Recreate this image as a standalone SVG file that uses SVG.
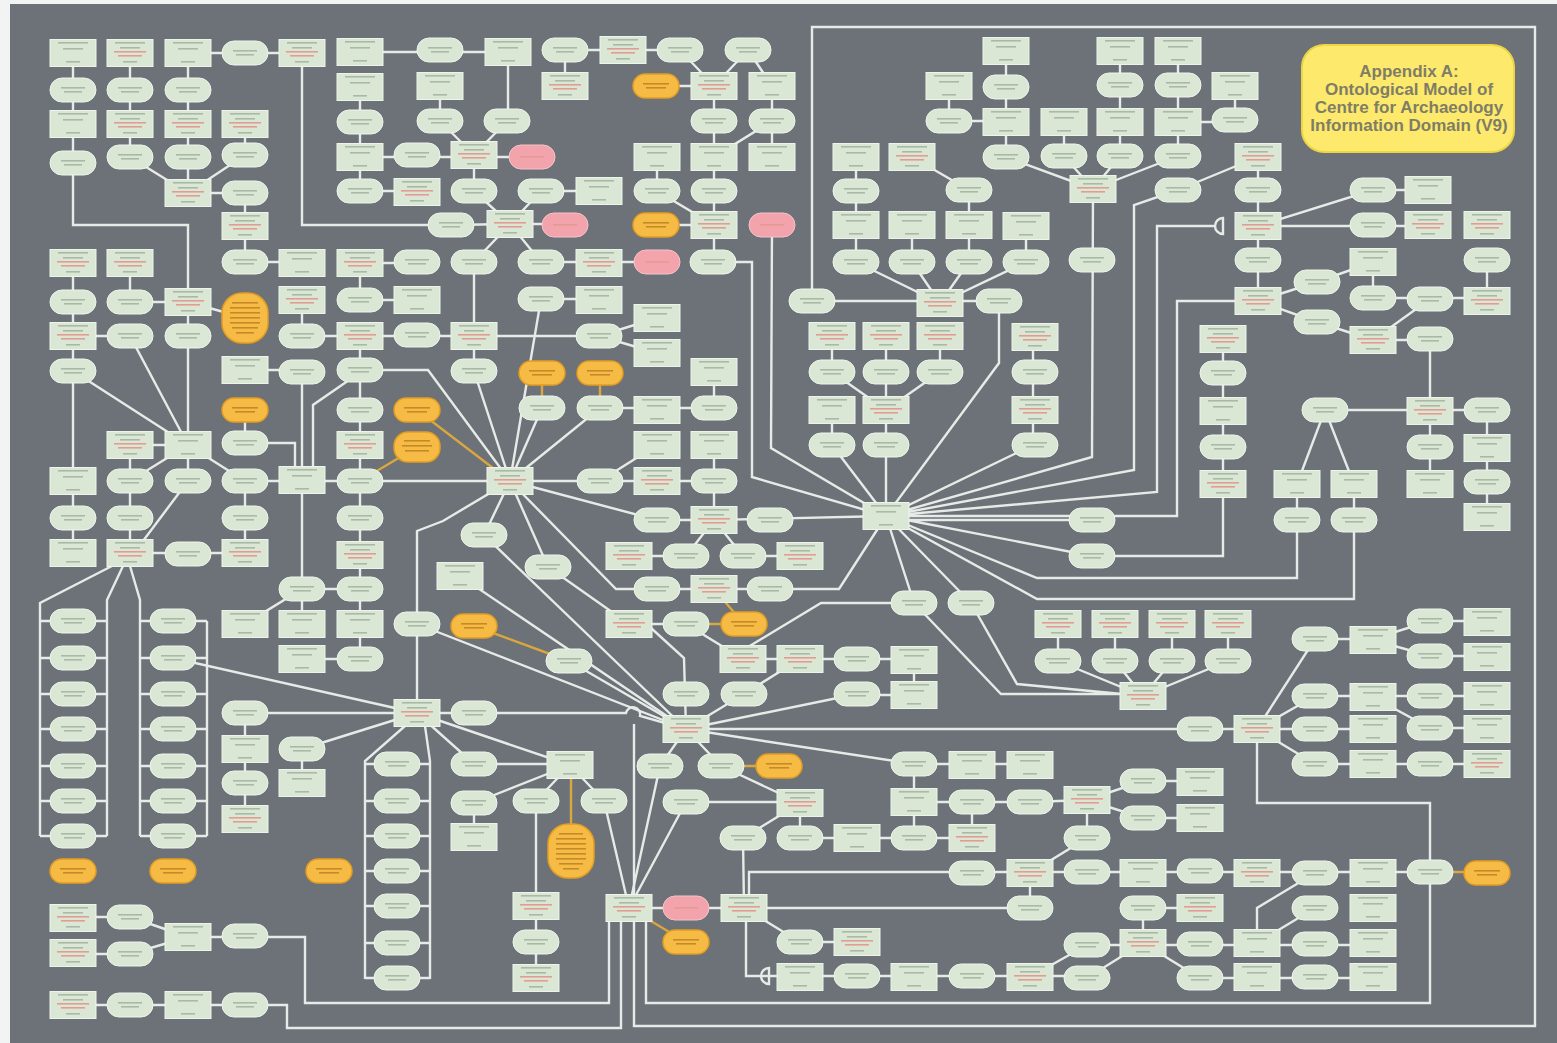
<svg xmlns="http://www.w3.org/2000/svg" width="1557" height="1043" viewBox="0 0 1557 1043">
<style>
.e path{fill:none;stroke:#e7ebe7;stroke-width:2.4}
.e path.o{stroke:#d9a640}
.bx{fill:#dbe7d5;stroke:#eef4ec;stroke-width:1}
.t{fill:#a9b9a6}
.tr{fill:#e39c92}
.or{fill:#f6bb45;stroke:#e39d22;stroke-width:1.5}
.pk{fill:#f2a3ab;stroke:#f6c3c8;stroke-width:1}
.to{fill:#c58a28}
.title{font-family:"Liberation Sans",Arial,sans-serif;font-weight:bold;font-size:17px;fill:#7f7d66;text-anchor:middle}
</style>
<defs>
<g id="B"><rect class="bx" x="-23" y="-13.5" width="46" height="27"/><rect class="t" x="-15" y="-11" width="30" height="1.6"/><rect class="t" x="-10" y="-5" width="20" height="1.6"/><rect class="t" x="-7" y="8" width="14" height="1.6"/></g>
<g id="R"><rect class="bx" x="-23" y="-13.5" width="46" height="27"/><rect class="t" x="-15" y="-11" width="30" height="1.6"/><rect class="t" x="-10" y="-6" width="20" height="1.6"/><rect class="tr" x="-16" y="-2" width="32" height="1.6"/><rect class="tr" x="-12" y="2" width="24" height="1.6"/><rect class="t" x="-7" y="8" width="14" height="1.6"/></g>
<g id="P"><rect class="bx" x="-23" y="-12" width="46" height="24" rx="12"/><rect class="t" x="-12" y="-3" width="24" height="1.6"/><rect class="t" x="-9" y="1" width="18" height="1.6"/></g>
<g id="O"><rect class="or" x="-23" y="-12" width="46" height="24" rx="12"/><rect class="to" x="-13" y="-3" width="26" height="1.6"/><rect class="to" x="-10" y="1" width="20" height="1.6"/></g>
<g id="K"><rect class="pk" x="-23" y="-12" width="46" height="24" rx="12"/><rect class="tr" x="-12" y="-1" width="24" height="1.6"/></g>
</defs>
<rect width="1557" height="1043" fill="#f2f3f3"/>
<rect x="10" y="4" width="1547" height="1039" fill="#6c7278"/>

<g id="connectors" class="e">
<path d="M73 53V163M130 53V157M188 53V193M188 53H302M245 124V155M245 155L188 193M130 157L188 193M188 193H245M245 193V262M245 262H302"/>
<path d="M73 163V225H188V481"/>
<path d="M302 53V225H451L510 224"/>
<path d="M360 52H508M360 87V191H417M440 86V121L474 155M507 121L474 155M508 52V121M360 157H532M474 155V191L510 224L474 262V371L510 481"/>
<path d="M510 224L541 191H599M510 224H565M510 224L541 262H657"/>
<path d="M73 263V371M130 263V302H188L245 318M73 336H130L188 445M73 371L188 445M73 371V481"/>
<path d="M302 300V336H474M360 263H417M360 263V300H417M360 336V481M245 370H302V480"/>
<path d="M352 378L313 405V470M360 370H428L510 481"/>
<path class="o" d="M417 410L510 481M417 447L360 481"/>
<path d="M245 410V443H295V470M130 445H188M130 445V481M188 445L130 481M188 445L245 481M245 481H510"/>
<path d="M73 481V553M130 481V553M188 481L140 545M302 480V589M245 481V553M360 481V659"/>
<path d="M510 481L443 521L417 531V713M510 481L484 535M510 481L541 299H599M474 336H599L657 318M599 336L657 353"/>
<path class="o" d="M542 373V408M600 373V408"/>
<path d="M510 481L542 408M510 481L600 408H714M714 372V408M657 445L600 481M510 481H714M714 445V520M510 481L657 520H714L886 516"/>
<path d="M565 50H680M565 50V86M680 50L714 86M748 50L714 86M748 50L772 86M656 86H714M714 86V262M772 121L714 157M772 86V157M657 157V191L714 225M656 225H714"/>
<path d="M713 262H752V477L886 516M772 225L771 448L886 516"/>
<path d="M812 301V27H1535V1026H634V921"/>
<path d="M812 301H999M856 262L940 303M912 262L940 303M969 262L940 303M1026 262L940 303M856 157V262M912 225V262M969 190V262M1026 226V262M912 157L969 190"/>
<path d="M1006 51V157M949 86V121H1006M1006 157L1093 189M999 301V363L886 516"/>
<path d="M832 336V372M886 336V372M940 336V372M832 372L886 410M886 372V516M940 372L886 410M832 410V445L886 516M1033 337V445L886 516"/>
<path d="M1120 51V156M1178 51V156M1235 86V120M1178 122H1235M1064 122V156L1093 189M1120 156L1093 189M1178 156L1093 189"/>
<path d="M1093 189L1092 457L886 516M1258 157V301M1178 190L1258 157M1178 190L1134 205V470L886 516"/>
<path d="M1258 226L1373 190H1428M1258 226H1428M1214 226H1157V492L886 516M1258 301H1177V516L886 516"/>
<path d="M1258 301L1317 282L1373 262V298H1487M1258 301L1317 322L1373 340M1430 299L1373 340H1430V484M1487 260V301"/>
<path d="M1223 339V556H1092M1325 410H1487M1325 410L1297 484V578H1037L886 516M1325 410L1354 484V599H1037L886 516M1487 410V515M1092 520H886M886 516L1092 556"/>
<path d="M130 553H245M112 566L40 603V836M123 566L107 600V836M130 566L140 600V836M207 621V836"/>
<path d="M40 621H107M40 658H107M40 694H107M40 729H107M40 766H107M40 801H107M40 836H107M140 621H207M140 658H207M140 694H207M140 729H207M140 766H207M140 801H207M140 836H207"/>
<path d="M173 658L417 713M302 589H360M302 589L245 624M302 589V624M302 659H360M460 576L686 729M417 624L686 729"/>
<path class="o" d="M474 626L569 661"/>
<path d="M245 713H474M245 713V819M302 749L417 713M302 749V783M474 713H626A7 7 0 0 1 640 716L686 729M634 724V895"/>
<path d="M417 713L474 764H570M474 803L570 765M474 803V837"/>
<path d="M405 726L365 761V979M425 726L430 761V979M365 764H430M365 801H430M365 836H430M365 871H430M365 906H430M365 943H430M365 978H430"/>
<path d="M130 917H73M130 954H73M130 917L188 937M130 954L188 937H245H305V1003H609V921M73 1005H287V1028H621V921M646 921V1003H1430V803H1257V729"/>
<path d="M510 481L548 567L629 624M629 556H686M743 556H800M714 520L686 556M714 520L743 556M657 589H770M510 481L616 589H657M770 589H839L886 516"/>
<path class="o" d="M714 589L744 624M686 624H744"/>
<path d="M629 624H686M651 628L684 658L686 729M686 624L743 659H914V695H857M800 659L744 694M686 729L744 694M686 729L857 694M686 729L914 764"/>
<path d="M743 650L821 603H914M886 516L914 603M886 516L971 603M914 603L1001 694H1143M971 603L1017 684L1143 696M484 535L686 729M569 661L686 729M686 729H1257"/>
<path d="M914 764H1030M686 729L660 766M686 729L721 766M721 766L800 803M686 802H800M686 802L629 908M660 766L629 908M417 713L570 765M570 765L536 801M570 765L604 801M536 801V978M604 801L629 908"/>
<path class="o" d="M721 766H779M571 778V824M629 908L686 942"/>
<path d="M629 908H1030M744 908L800 942H857M749 895V872H1430M746 921V976H800H1087M1030 873V908M914 764V838M914 802H1030M972 802V838M800 803L743 838M800 803V838H972M743 838L744 908"/>
<path d="M1058 624V661L1143 696M1115 624V661L1143 696M1172 624V661L1143 696M1228 624V661L1143 696"/>
<path d="M1257 729L1315 639H1373L1430 621H1487M1373 640L1430 656H1487M1257 729L1315 696H1487M1373 697L1430 728H1487M1257 729H1373M1257 729L1315 764H1487"/>
<path d="M1030 802L1087 800L1143 781H1200M1087 800L1143 818H1200M1087 800V838L1030 873M1315 873L1257 908V943M1315 908L1257 943M1143 908V943M1143 908H1200M1087 945H1373M1143 943L1087 978M1143 943L1200 978H1373M1030 977L1087 945"/>
<path class="o" d="M1430 872H1487"/>
<path d="M1223 218A8 8 0 0 0 1223 234Z" fill="#e7ebe7"/>
<path d="M769 968A8 8 0 0 0 769 984Z" fill="#e7ebe7"/>
</g>

<g id="nodes">
<g id="n1" transform="translate(73,53)"><use href="#B"/></g>
<g id="n2" transform="translate(130,53)"><use href="#R"/></g>
<g id="n3" transform="translate(188,53)"><use href="#B"/></g>
<g id="n4" transform="translate(245,53)"><use href="#P"/></g>
<g id="n5" transform="translate(302,53)"><use href="#R"/></g>
<g id="n6" transform="translate(360,52)"><use href="#B"/></g>
<g id="n7" transform="translate(440,50)"><use href="#P"/></g>
<g id="n8" transform="translate(508,52)"><use href="#B"/></g>
<g id="n9" transform="translate(73,90)"><use href="#P"/></g>
<g id="n10" transform="translate(130,90)"><use href="#P"/></g>
<g id="n11" transform="translate(188,90)"><use href="#P"/></g>
<g id="n12" transform="translate(360,87)"><use href="#B"/></g>
<g id="n13" transform="translate(440,86)"><use href="#B"/></g>
<g id="n14" transform="translate(73,124)"><use href="#B"/></g>
<g id="n15" transform="translate(130,124)"><use href="#R"/></g>
<g id="n16" transform="translate(188,124)"><use href="#R"/></g>
<g id="n17" transform="translate(245,124)"><use href="#R"/></g>
<g id="n18" transform="translate(360,122)"><use href="#P"/></g>
<g id="n19" transform="translate(440,121)"><use href="#P"/></g>
<g id="n20" transform="translate(507,121)"><use href="#P"/></g>
<g id="n21" transform="translate(73,163)"><use href="#P"/></g>
<g id="n22" transform="translate(130,157)"><use href="#P"/></g>
<g id="n23" transform="translate(188,157)"><use href="#P"/></g>
<g id="n24" transform="translate(245,155)"><use href="#P"/></g>
<g id="n25" transform="translate(360,157)"><use href="#B"/></g>
<g id="n26" transform="translate(417,155)"><use href="#P"/></g>
<g id="n27" transform="translate(474,155)"><use href="#R"/></g>
<g id="n28" transform="translate(532,157)"><use href="#K"/></g>
<g id="n29" transform="translate(188,193)"><use href="#R"/></g>
<g id="n30" transform="translate(245,193)"><use href="#P"/></g>
<g id="n31" transform="translate(360,191)"><use href="#P"/></g>
<g id="n32" transform="translate(417,192)"><use href="#R"/></g>
<g id="n33" transform="translate(474,191)"><use href="#P"/></g>
<g id="n34" transform="translate(245,226)"><use href="#R"/></g>
<g id="n35" transform="translate(451,225)"><use href="#P"/></g>
<g id="n36" transform="translate(510,224)"><use href="#R"/></g>
<g id="n37" transform="translate(73,263)"><use href="#R"/></g>
<g id="n38" transform="translate(130,263)"><use href="#R"/></g>
<g id="n39" transform="translate(245,262)"><use href="#P"/></g>
<g id="n40" transform="translate(302,263)"><use href="#B"/></g>
<g id="n41" transform="translate(360,263)"><use href="#R"/></g>
<g id="n42" transform="translate(417,262)"><use href="#P"/></g>
<g id="n43" transform="translate(474,262)"><use href="#P"/></g>
<g id="n44" transform="translate(73,302)"><use href="#P"/></g>
<g id="n45" transform="translate(130,302)"><use href="#P"/></g>
<g id="n46" transform="translate(188,302)"><use href="#R"/></g>
<g id="n47" transform="translate(245,318)"><rect class="or" x="-23" y="-25" width="46" height="50" rx="20"/><rect class="to" x="-13" y="-16" width="26" height="1.6"/><rect class="to" x="-15" y="-11" width="30" height="1.6"/><rect class="to" x="-15" y="-6" width="30" height="1.6"/><rect class="to" x="-15" y="-1" width="30" height="1.6"/><rect class="to" x="-15" y="4" width="30" height="1.6"/><rect class="to" x="-13" y="9" width="26" height="1.6"/><rect class="to" x="-9" y="14" width="18" height="1.6"/></g>
<g id="n48" transform="translate(302,300)"><use href="#R"/></g>
<g id="n49" transform="translate(360,300)"><use href="#P"/></g>
<g id="n50" transform="translate(417,300)"><use href="#B"/></g>
<g id="n51" transform="translate(73,336)"><use href="#R"/></g>
<g id="n52" transform="translate(130,336)"><use href="#P"/></g>
<g id="n53" transform="translate(188,336)"><use href="#P"/></g>
<g id="n54" transform="translate(302,336)"><use href="#P"/></g>
<g id="n55" transform="translate(360,336)"><use href="#R"/></g>
<g id="n56" transform="translate(417,335)"><use href="#P"/></g>
<g id="n57" transform="translate(474,336)"><use href="#R"/></g>
<g id="n58" transform="translate(73,371)"><use href="#P"/></g>
<g id="n59" transform="translate(245,370)"><use href="#B"/></g>
<g id="n60" transform="translate(302,372)"><use href="#P"/></g>
<g id="n61" transform="translate(360,370)"><use href="#P"/></g>
<g id="n62" transform="translate(474,371)"><use href="#P"/></g>
<g id="n63" transform="translate(245,410)"><use href="#O"/></g>
<g id="n64" transform="translate(360,410)"><use href="#P"/></g>
<g id="n65" transform="translate(417,410)"><use href="#O"/></g>
<g id="n66" transform="translate(130,445)"><use href="#R"/></g>
<g id="n67" transform="translate(188,445)"><use href="#B"/></g>
<g id="n68" transform="translate(245,443)"><use href="#P"/></g>
<g id="n69" transform="translate(360,445)"><use href="#R"/></g>
<g id="n70" transform="translate(417,447)"><rect class="or" x="-23" y="-15" width="46" height="30" rx="14"/><rect class="to" x="-13" y="-7" width="26" height="1.6"/><rect class="to" x="-15" y="-2" width="30" height="1.6"/><rect class="to" x="-12" y="3" width="24" height="1.6"/></g>
<g id="n71" transform="translate(73,481)"><use href="#B"/></g>
<g id="n72" transform="translate(130,481)"><use href="#P"/></g>
<g id="n73" transform="translate(188,481)"><use href="#P"/></g>
<g id="n74" transform="translate(245,481)"><use href="#P"/></g>
<g id="n75" transform="translate(302,480)"><use href="#B"/></g>
<g id="n76" transform="translate(360,481)"><use href="#P"/></g>
<g id="n77" transform="translate(510,481)"><use href="#R"/></g>
<g id="n78" transform="translate(565,50)"><use href="#P"/></g>
<g id="n79" transform="translate(623,50)"><use href="#R"/></g>
<g id="n80" transform="translate(680,50)"><use href="#P"/></g>
<g id="n81" transform="translate(748,50)"><use href="#P"/></g>
<g id="n82" transform="translate(1006,51)"><use href="#B"/></g>
<g id="n83" transform="translate(565,86)"><use href="#R"/></g>
<g id="n84" transform="translate(656,86)"><use href="#O"/></g>
<g id="n85" transform="translate(714,86)"><use href="#R"/></g>
<g id="n86" transform="translate(772,86)"><use href="#B"/></g>
<g id="n87" transform="translate(949,86)"><use href="#B"/></g>
<g id="n88" transform="translate(1006,87)"><use href="#P"/></g>
<g id="n89" transform="translate(714,121)"><use href="#P"/></g>
<g id="n90" transform="translate(772,121)"><use href="#P"/></g>
<g id="n91" transform="translate(949,121)"><use href="#P"/></g>
<g id="n92" transform="translate(1006,122)"><use href="#B"/></g>
<g id="n93" transform="translate(657,157)"><use href="#B"/></g>
<g id="n94" transform="translate(714,157)"><use href="#B"/></g>
<g id="n95" transform="translate(772,157)"><use href="#B"/></g>
<g id="n96" transform="translate(856,157)"><use href="#B"/></g>
<g id="n97" transform="translate(912,157)"><use href="#R"/></g>
<g id="n98" transform="translate(1006,157)"><use href="#P"/></g>
<g id="n99" transform="translate(541,191)"><use href="#P"/></g>
<g id="n100" transform="translate(599,191)"><use href="#B"/></g>
<g id="n101" transform="translate(657,191)"><use href="#P"/></g>
<g id="n102" transform="translate(714,191)"><use href="#P"/></g>
<g id="n103" transform="translate(856,191)"><use href="#P"/></g>
<g id="n104" transform="translate(969,190)"><use href="#P"/></g>
<g id="n105" transform="translate(565,225)"><use href="#K"/></g>
<g id="n106" transform="translate(656,225)"><use href="#O"/></g>
<g id="n107" transform="translate(714,225)"><use href="#R"/></g>
<g id="n108" transform="translate(772,225)"><use href="#K"/></g>
<g id="n109" transform="translate(856,225)"><use href="#B"/></g>
<g id="n110" transform="translate(912,225)"><use href="#B"/></g>
<g id="n111" transform="translate(969,225)"><use href="#B"/></g>
<g id="n112" transform="translate(1026,226)"><use href="#B"/></g>
<g id="n113" transform="translate(541,262)"><use href="#P"/></g>
<g id="n114" transform="translate(599,263)"><use href="#R"/></g>
<g id="n115" transform="translate(657,262)"><use href="#K"/></g>
<g id="n116" transform="translate(713,262)"><use href="#P"/></g>
<g id="n117" transform="translate(856,262)"><use href="#P"/></g>
<g id="n118" transform="translate(912,262)"><use href="#P"/></g>
<g id="n119" transform="translate(969,262)"><use href="#P"/></g>
<g id="n120" transform="translate(1026,262)"><use href="#P"/></g>
<g id="n121" transform="translate(541,299)"><use href="#P"/></g>
<g id="n122" transform="translate(599,300)"><use href="#B"/></g>
<g id="n123" transform="translate(812,301)"><use href="#P"/></g>
<g id="n124" transform="translate(940,303)"><use href="#R"/></g>
<g id="n125" transform="translate(999,301)"><use href="#P"/></g>
<g id="n126" transform="translate(657,318)"><use href="#B"/></g>
<g id="n127" transform="translate(657,353)"><use href="#B"/></g>
<g id="n128" transform="translate(599,336)"><use href="#P"/></g>
<g id="n129" transform="translate(832,336)"><use href="#R"/></g>
<g id="n130" transform="translate(886,336)"><use href="#R"/></g>
<g id="n131" transform="translate(940,336)"><use href="#R"/></g>
<g id="n132" transform="translate(1035,337)"><use href="#R"/></g>
<g id="n133" transform="translate(542,373)"><use href="#O"/></g>
<g id="n134" transform="translate(600,373)"><use href="#O"/></g>
<g id="n135" transform="translate(714,372)"><use href="#B"/></g>
<g id="n136" transform="translate(832,372)"><use href="#P"/></g>
<g id="n137" transform="translate(886,372)"><use href="#P"/></g>
<g id="n138" transform="translate(940,372)"><use href="#P"/></g>
<g id="n139" transform="translate(1035,372)"><use href="#P"/></g>
<g id="n140" transform="translate(542,408)"><use href="#P"/></g>
<g id="n141" transform="translate(600,408)"><use href="#P"/></g>
<g id="n142" transform="translate(657,410)"><use href="#B"/></g>
<g id="n143" transform="translate(714,408)"><use href="#P"/></g>
<g id="n144" transform="translate(832,410)"><use href="#B"/></g>
<g id="n145" transform="translate(886,410)"><use href="#R"/></g>
<g id="n146" transform="translate(1035,410)"><use href="#R"/></g>
<g id="n147" transform="translate(657,445)"><use href="#B"/></g>
<g id="n148" transform="translate(714,445)"><use href="#B"/></g>
<g id="n149" transform="translate(832,445)"><use href="#P"/></g>
<g id="n150" transform="translate(886,445)"><use href="#P"/></g>
<g id="n151" transform="translate(1035,445)"><use href="#P"/></g>
<g id="n152" transform="translate(600,481)"><use href="#P"/></g>
<g id="n153" transform="translate(657,481)"><use href="#R"/></g>
<g id="n154" transform="translate(714,481)"><use href="#P"/></g>
<g id="n155" transform="translate(657,520)"><use href="#P"/></g>
<g id="n156" transform="translate(714,520)"><use href="#R"/></g>
<g id="n157" transform="translate(770,520)"><use href="#P"/></g>
<g id="n158" transform="translate(886,516)"><use href="#B"/></g>
<g id="n159" transform="translate(1120,51)"><use href="#B"/></g>
<g id="n160" transform="translate(1178,51)"><use href="#B"/></g>
<g id="n161" transform="translate(1120,85)"><use href="#P"/></g>
<g id="n162" transform="translate(1178,85)"><use href="#P"/></g>
<g id="n163" transform="translate(1235,86)"><use href="#B"/></g>
<g id="n164" transform="translate(1064,122)"><use href="#B"/></g>
<g id="n165" transform="translate(1120,122)"><use href="#B"/></g>
<g id="n166" transform="translate(1178,122)"><use href="#B"/></g>
<g id="n167" transform="translate(1235,120)"><use href="#P"/></g>
<g id="n168" transform="translate(1064,156)"><use href="#P"/></g>
<g id="n169" transform="translate(1120,156)"><use href="#P"/></g>
<g id="n170" transform="translate(1178,156)"><use href="#P"/></g>
<g id="n171" transform="translate(1258,157)"><use href="#R"/></g>
<g id="n172" transform="translate(1093,189)"><use href="#R"/></g>
<g id="n173" transform="translate(1178,190)"><use href="#P"/></g>
<g id="n174" transform="translate(1258,190)"><use href="#P"/></g>
<g id="n175" transform="translate(1373,190)"><use href="#P"/></g>
<g id="n176" transform="translate(1428,190)"><use href="#B"/></g>
<g id="n177" transform="translate(1258,226)"><use href="#R"/></g>
<g id="n178" transform="translate(1373,225)"><use href="#P"/></g>
<g id="n179" transform="translate(1428,225)"><use href="#R"/></g>
<g id="n180" transform="translate(1487,225)"><use href="#R"/></g>
<g id="n181" transform="translate(1258,260)"><use href="#P"/></g>
<g id="n182" transform="translate(1092,260)"><use href="#P"/></g>
<g id="n183" transform="translate(1373,262)"><use href="#B"/></g>
<g id="n184" transform="translate(1487,260)"><use href="#P"/></g>
<g id="n185" transform="translate(1317,282)"><use href="#P"/></g>
<g id="n186" transform="translate(1258,301)"><use href="#R"/></g>
<g id="n187" transform="translate(1373,298)"><use href="#P"/></g>
<g id="n188" transform="translate(1430,299)"><use href="#P"/></g>
<g id="n189" transform="translate(1487,301)"><use href="#R"/></g>
<g id="n190" transform="translate(1317,322)"><use href="#P"/></g>
<g id="n191" transform="translate(1373,340)"><use href="#R"/></g>
<g id="n192" transform="translate(1430,339)"><use href="#P"/></g>
<g id="n193" transform="translate(1223,339)"><use href="#R"/></g>
<g id="n194" transform="translate(1223,373)"><use href="#P"/></g>
<g id="n195" transform="translate(1223,411)"><use href="#B"/></g>
<g id="n196" transform="translate(1223,447)"><use href="#P"/></g>
<g id="n197" transform="translate(1223,484)"><use href="#R"/></g>
<g id="n198" transform="translate(1325,410)"><use href="#P"/></g>
<g id="n199" transform="translate(1430,411)"><use href="#R"/></g>
<g id="n200" transform="translate(1487,410)"><use href="#P"/></g>
<g id="n201" transform="translate(1430,447)"><use href="#P"/></g>
<g id="n202" transform="translate(1487,448)"><use href="#B"/></g>
<g id="n203" transform="translate(1430,484)"><use href="#B"/></g>
<g id="n204" transform="translate(1487,482)"><use href="#P"/></g>
<g id="n205" transform="translate(1487,517)"><use href="#B"/></g>
<g id="n206" transform="translate(1297,484)"><use href="#B"/></g>
<g id="n207" transform="translate(1354,484)"><use href="#B"/></g>
<g id="n208" transform="translate(1297,520)"><use href="#P"/></g>
<g id="n209" transform="translate(1354,520)"><use href="#P"/></g>
<g id="n210" transform="translate(1092,520)"><use href="#P"/></g>
<g id="n211" transform="translate(73,518)"><use href="#P"/></g>
<g id="n212" transform="translate(130,518)"><use href="#P"/></g>
<g id="n213" transform="translate(245,518)"><use href="#P"/></g>
<g id="n214" transform="translate(360,518)"><use href="#P"/></g>
<g id="n215" transform="translate(484,535)"><use href="#P"/></g>
<g id="n216" transform="translate(73,553)"><use href="#B"/></g>
<g id="n217" transform="translate(130,553)"><use href="#R"/></g>
<g id="n218" transform="translate(188,554)"><use href="#P"/></g>
<g id="n219" transform="translate(245,553)"><use href="#R"/></g>
<g id="n220" transform="translate(360,555)"><use href="#R"/></g>
<g id="n221" transform="translate(302,589)"><use href="#P"/></g>
<g id="n222" transform="translate(360,589)"><use href="#P"/></g>
<g id="n223" transform="translate(460,576)"><use href="#B"/></g>
<g id="n224" transform="translate(245,624)"><use href="#B"/></g>
<g id="n225" transform="translate(302,624)"><use href="#B"/></g>
<g id="n226" transform="translate(360,624)"><use href="#B"/></g>
<g id="n227" transform="translate(417,624)"><use href="#P"/></g>
<g id="n228" transform="translate(474,626)"><use href="#O"/></g>
<g id="n229" transform="translate(302,659)"><use href="#B"/></g>
<g id="n230" transform="translate(360,659)"><use href="#P"/></g>
<g id="n231" transform="translate(73,621)"><use href="#P"/></g>
<g id="n232" transform="translate(73,658)"><use href="#P"/></g>
<g id="n233" transform="translate(73,694)"><use href="#P"/></g>
<g id="n234" transform="translate(73,729)"><use href="#P"/></g>
<g id="n235" transform="translate(73,766)"><use href="#P"/></g>
<g id="n236" transform="translate(73,801)"><use href="#P"/></g>
<g id="n237" transform="translate(73,836)"><use href="#P"/></g>
<g id="n238" transform="translate(173,621)"><use href="#P"/></g>
<g id="n239" transform="translate(173,658)"><use href="#P"/></g>
<g id="n240" transform="translate(173,694)"><use href="#P"/></g>
<g id="n241" transform="translate(173,729)"><use href="#P"/></g>
<g id="n242" transform="translate(173,766)"><use href="#P"/></g>
<g id="n243" transform="translate(173,801)"><use href="#P"/></g>
<g id="n244" transform="translate(173,836)"><use href="#P"/></g>
<g id="n245" transform="translate(73,871)"><use href="#O"/></g>
<g id="n246" transform="translate(173,871)"><use href="#O"/></g>
<g id="n247" transform="translate(329,871)"><use href="#O"/></g>
<g id="n248" transform="translate(245,713)"><use href="#P"/></g>
<g id="n249" transform="translate(245,749)"><use href="#B"/></g>
<g id="n250" transform="translate(245,783)"><use href="#P"/></g>
<g id="n251" transform="translate(245,819)"><use href="#R"/></g>
<g id="n252" transform="translate(302,749)"><use href="#P"/></g>
<g id="n253" transform="translate(302,783)"><use href="#B"/></g>
<g id="n254" transform="translate(417,713)"><use href="#R"/></g>
<g id="n255" transform="translate(474,713)"><use href="#P"/></g>
<g id="n256" transform="translate(474,764)"><use href="#P"/></g>
<g id="n257" transform="translate(474,803)"><use href="#P"/></g>
<g id="n258" transform="translate(474,837)"><use href="#B"/></g>
<g id="n259" transform="translate(397,764)"><use href="#P"/></g>
<g id="n260" transform="translate(397,801)"><use href="#P"/></g>
<g id="n261" transform="translate(397,836)"><use href="#P"/></g>
<g id="n262" transform="translate(397,871)"><use href="#P"/></g>
<g id="n263" transform="translate(397,906)"><use href="#P"/></g>
<g id="n264" transform="translate(397,943)"><use href="#P"/></g>
<g id="n265" transform="translate(397,978)"><use href="#P"/></g>
<g id="n266" transform="translate(73,918)"><use href="#R"/></g>
<g id="n267" transform="translate(73,953)"><use href="#R"/></g>
<g id="n268" transform="translate(130,917)"><use href="#P"/></g>
<g id="n269" transform="translate(130,954)"><use href="#P"/></g>
<g id="n270" transform="translate(188,937)"><use href="#B"/></g>
<g id="n271" transform="translate(245,936)"><use href="#P"/></g>
<g id="n272" transform="translate(73,1005)"><use href="#R"/></g>
<g id="n273" transform="translate(130,1005)"><use href="#P"/></g>
<g id="n274" transform="translate(188,1005)"><use href="#B"/></g>
<g id="n275" transform="translate(245,1005)"><use href="#P"/></g>
<g id="n276" transform="translate(548,567)"><use href="#P"/></g>
<g id="n277" transform="translate(629,556)"><use href="#R"/></g>
<g id="n278" transform="translate(686,556)"><use href="#P"/></g>
<g id="n279" transform="translate(743,556)"><use href="#P"/></g>
<g id="n280" transform="translate(800,556)"><use href="#R"/></g>
<g id="n281" transform="translate(657,589)"><use href="#P"/></g>
<g id="n282" transform="translate(714,589)"><use href="#R"/></g>
<g id="n283" transform="translate(770,589)"><use href="#P"/></g>
<g id="n284" transform="translate(629,624)"><use href="#R"/></g>
<g id="n285" transform="translate(686,624)"><use href="#P"/></g>
<g id="n286" transform="translate(744,624)"><use href="#O"/></g>
<g id="n287" transform="translate(914,603)"><use href="#P"/></g>
<g id="n288" transform="translate(971,603)"><use href="#P"/></g>
<g id="n289" transform="translate(569,661)"><use href="#P"/></g>
<g id="n290" transform="translate(743,659)"><use href="#R"/></g>
<g id="n291" transform="translate(800,659)"><use href="#R"/></g>
<g id="n292" transform="translate(857,659)"><use href="#P"/></g>
<g id="n293" transform="translate(914,660)"><use href="#B"/></g>
<g id="n294" transform="translate(686,694)"><use href="#P"/></g>
<g id="n295" transform="translate(744,694)"><use href="#P"/></g>
<g id="n296" transform="translate(857,694)"><use href="#P"/></g>
<g id="n297" transform="translate(914,695)"><use href="#B"/></g>
<g id="n298" transform="translate(686,729)"><use href="#R"/></g>
<g id="n299" transform="translate(570,765)"><use href="#B"/></g>
<g id="n300" transform="translate(660,766)"><use href="#P"/></g>
<g id="n301" transform="translate(721,766)"><use href="#P"/></g>
<g id="n302" transform="translate(779,766)"><use href="#O"/></g>
<g id="n303" transform="translate(914,764)"><use href="#P"/></g>
<g id="n304" transform="translate(972,765)"><use href="#B"/></g>
<g id="n305" transform="translate(1030,765)"><use href="#B"/></g>
<g id="n306" transform="translate(536,801)"><use href="#P"/></g>
<g id="n307" transform="translate(604,801)"><use href="#P"/></g>
<g id="n308" transform="translate(571,851)"><rect class="or" x="-23" y="-27" width="46" height="54" rx="20"/><rect class="to" x="-12" y="-18" width="24" height="1.6"/><rect class="to" x="-15" y="-13" width="30" height="1.6"/><rect class="to" x="-15" y="-8" width="30" height="1.6"/><rect class="to" x="-15" y="-3" width="30" height="1.6"/><rect class="to" x="-15" y="2" width="30" height="1.6"/><rect class="to" x="-15" y="7" width="30" height="1.6"/><rect class="to" x="-12" y="12" width="24" height="1.6"/><rect class="to" x="-8" y="17" width="16" height="1.6"/></g>
<g id="n309" transform="translate(686,802)"><use href="#P"/></g>
<g id="n310" transform="translate(800,803)"><use href="#R"/></g>
<g id="n311" transform="translate(914,802)"><use href="#B"/></g>
<g id="n312" transform="translate(972,802)"><use href="#P"/></g>
<g id="n313" transform="translate(743,838)"><use href="#P"/></g>
<g id="n314" transform="translate(800,838)"><use href="#P"/></g>
<g id="n315" transform="translate(857,838)"><use href="#B"/></g>
<g id="n316" transform="translate(914,838)"><use href="#P"/></g>
<g id="n317" transform="translate(972,838)"><use href="#R"/></g>
<g id="n318" transform="translate(972,873)"><use href="#P"/></g>
<g id="n319" transform="translate(1030,873)"><use href="#R"/></g>
<g id="n320" transform="translate(536,906)"><use href="#R"/></g>
<g id="n321" transform="translate(629,908)"><use href="#R"/></g>
<g id="n322" transform="translate(686,908)"><use href="#K"/></g>
<g id="n323" transform="translate(744,908)"><use href="#R"/></g>
<g id="n324" transform="translate(1030,908)"><use href="#P"/></g>
<g id="n325" transform="translate(686,942)"><use href="#O"/></g>
<g id="n326" transform="translate(536,942)"><use href="#P"/></g>
<g id="n327" transform="translate(800,942)"><use href="#P"/></g>
<g id="n328" transform="translate(857,942)"><use href="#R"/></g>
<g id="n329" transform="translate(536,978)"><use href="#R"/></g>
<g id="n330" transform="translate(800,977)"><use href="#B"/></g>
<g id="n331" transform="translate(857,976)"><use href="#P"/></g>
<g id="n332" transform="translate(914,977)"><use href="#B"/></g>
<g id="n333" transform="translate(972,976)"><use href="#P"/></g>
<g id="n334" transform="translate(1030,977)"><use href="#R"/></g>
<g id="n394" transform="translate(1030,802)"><use href="#P"/></g>
<g id="n335" transform="translate(1092,556)"><use href="#P"/></g>
<g id="n336" transform="translate(1058,624)"><use href="#R"/></g>
<g id="n337" transform="translate(1115,624)"><use href="#R"/></g>
<g id="n338" transform="translate(1172,624)"><use href="#R"/></g>
<g id="n339" transform="translate(1228,624)"><use href="#R"/></g>
<g id="n340" transform="translate(1058,661)"><use href="#P"/></g>
<g id="n341" transform="translate(1115,661)"><use href="#P"/></g>
<g id="n342" transform="translate(1172,661)"><use href="#P"/></g>
<g id="n343" transform="translate(1228,661)"><use href="#P"/></g>
<g id="n344" transform="translate(1143,696)"><use href="#R"/></g>
<g id="n345" transform="translate(1200,729)"><use href="#P"/></g>
<g id="n346" transform="translate(1257,729)"><use href="#R"/></g>
<g id="n347" transform="translate(1315,639)"><use href="#P"/></g>
<g id="n348" transform="translate(1373,640)"><use href="#B"/></g>
<g id="n349" transform="translate(1430,621)"><use href="#P"/></g>
<g id="n350" transform="translate(1487,622)"><use href="#B"/></g>
<g id="n351" transform="translate(1430,656)"><use href="#P"/></g>
<g id="n352" transform="translate(1487,657)"><use href="#B"/></g>
<g id="n353" transform="translate(1315,696)"><use href="#P"/></g>
<g id="n354" transform="translate(1373,697)"><use href="#B"/></g>
<g id="n355" transform="translate(1430,696)"><use href="#P"/></g>
<g id="n356" transform="translate(1487,696)"><use href="#B"/></g>
<g id="n357" transform="translate(1315,729)"><use href="#P"/></g>
<g id="n358" transform="translate(1373,729)"><use href="#B"/></g>
<g id="n359" transform="translate(1430,728)"><use href="#P"/></g>
<g id="n360" transform="translate(1487,729)"><use href="#B"/></g>
<g id="n361" transform="translate(1315,764)"><use href="#P"/></g>
<g id="n362" transform="translate(1373,764)"><use href="#B"/></g>
<g id="n363" transform="translate(1430,764)"><use href="#P"/></g>
<g id="n364" transform="translate(1487,764)"><use href="#R"/></g>
<g id="n365" transform="translate(1143,781)"><use href="#P"/></g>
<g id="n366" transform="translate(1200,782)"><use href="#B"/></g>
<g id="n367" transform="translate(1087,800)"><use href="#R"/></g>
<g id="n368" transform="translate(1143,818)"><use href="#P"/></g>
<g id="n369" transform="translate(1200,818)"><use href="#B"/></g>
<g id="n370" transform="translate(1087,838)"><use href="#P"/></g>
<g id="n371" transform="translate(1087,872)"><use href="#P"/></g>
<g id="n372" transform="translate(1143,873)"><use href="#B"/></g>
<g id="n373" transform="translate(1200,871)"><use href="#P"/></g>
<g id="n374" transform="translate(1257,873)"><use href="#R"/></g>
<g id="n375" transform="translate(1315,873)"><use href="#P"/></g>
<g id="n376" transform="translate(1373,873)"><use href="#B"/></g>
<g id="n377" transform="translate(1430,872)"><use href="#P"/></g>
<g id="n378" transform="translate(1487,873)"><use href="#O"/></g>
<g id="n379" transform="translate(1143,908)"><use href="#P"/></g>
<g id="n380" transform="translate(1200,908)"><use href="#R"/></g>
<g id="n381" transform="translate(1315,908)"><use href="#P"/></g>
<g id="n382" transform="translate(1373,908)"><use href="#B"/></g>
<g id="n383" transform="translate(1087,945)"><use href="#P"/></g>
<g id="n384" transform="translate(1143,943)"><use href="#R"/></g>
<g id="n385" transform="translate(1200,944)"><use href="#P"/></g>
<g id="n386" transform="translate(1257,943)"><use href="#B"/></g>
<g id="n387" transform="translate(1315,944)"><use href="#P"/></g>
<g id="n388" transform="translate(1373,943)"><use href="#B"/></g>
<g id="n389" transform="translate(1087,978)"><use href="#P"/></g>
<g id="n390" transform="translate(1200,978)"><use href="#P"/></g>
<g id="n391" transform="translate(1257,977)"><use href="#B"/></g>
<g id="n392" transform="translate(1315,977)"><use href="#P"/></g>
<g id="n393" transform="translate(1373,977)"><use href="#B"/></g>
</g>

<g id="title">
<rect x="1302" y="45" width="212" height="107" rx="22" fill="#fde96c" stroke="#eed544" stroke-width="2"/>
<text class="title" x="1409" y="77">Appendix A:</text>
<text class="title" x="1409" y="95">Ontological Model of</text>
<text class="title" x="1409" y="113">Centre for Archaeology</text>
<text class="title" x="1409" y="131">Information Domain (V9)</text>
</g>
</svg>
